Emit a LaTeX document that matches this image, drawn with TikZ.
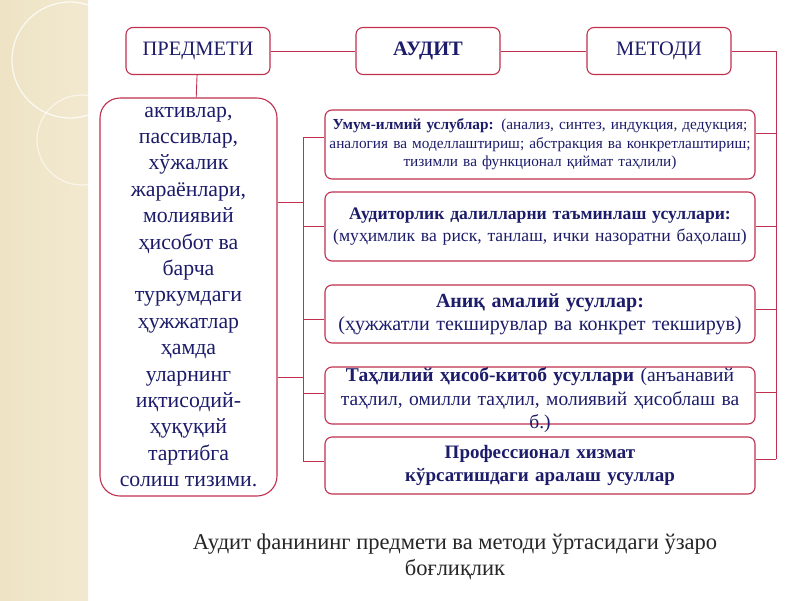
\documentclass[tikz,border=0pt]{standalone}
\usepackage{fontspec}
\setmainfont{Liberation Serif}
\usetikzlibrary{positioning}
\definecolor{frame}{HTML}{C0304F}
\definecolor{ink}{HTML}{1C1C6A}
\definecolor{sand}{HTML}{EEE3C4}

\begin{document}
\begin{tikzpicture}[
    x=1pt, y=-1pt,
    box/.style={draw=frame, line width=1.1pt, rounded corners=7pt, fill=white,
        inner sep=0pt, align=center, text=ink},
    head/.style={box, minimum width=144, minimum height=47, font=\fontsize{20.5}{22}\selectfont},
    way/.style={box, minimum width=430, text width=428},
    link/.style={draw=frame, line width=0.9pt},
]
    \useasboundingbox (0,0) rectangle (800,600);
    \fill[white] (0,0) rectangle (800,600);
    \shade[left color=sand, right color=sand!80!white] (0,0) rectangle (88,600);
    \draw[white, line width=1.2pt, opacity=0.8] (70,60) circle (58);
    \draw[white, line width=1.2pt, opacity=0.6] (82,140) circle (45);

    \node[head]                     (subj) at (198,51) {ПРЕДМЕТИ};
    \node[head, font=\bfseries\fontsize{20.5}{22}\selectfont] (audit) at (428,51) {АУДИТ};
    \node[head]                     (meth) at (659,51) {МЕТОДИ};

    \node[box, rounded corners=20pt, minimum width=177, minimum height=398,
          font=\fontsize{21.8}{26.4}\selectfont] (items) at (188.5,297)
        {активлар,\\ пассивлар,\\ хўжалик\\ жараёнлари,\\ молиявий\\ ҳисобот ва\\ барча\\ туркумдаги\\
         ҳужжатлар\\ ҳамда\\ уларнинг\\ иқтисодий-\\ ҳуқуқий\\ тартибга\\ солиш тизими.};

    \node[way, minimum height=69, font=\fontsize{15.3}{18.5}\selectfont] (w1) at (540,144.5)
        {\textbf{Умум-илмий услублар:} (анализ, синтез, индукция, дедукция;\\ аналогия ва моделлаштириш; абстракция ва конкретлаштириш;\\ тизимли ва функционал қиймат таҳлили)};
    \node[way, minimum height=69, font=\fontsize{17.6}{22}\selectfont] (w2) at (540,226.5)
        {\textbf{Аудиторлик далилларни таъминлаш усуллари:}\\(муҳимлик ва риск, танлаш, ички назоратни баҳолаш)};
    \node[way, minimum height=58, font=\fontsize{20}{23}\selectfont] (w3) at (540,314)
        {\textbf{Аниқ амалий усуллар:}\\(ҳужжатли текширувлар ва конкрет текширув)};
    \node[way, minimum height=57] (w4) at (540,395.5) {};
    \node[align=center, text=ink, text width=428, inner sep=0pt,
          font=\fontsize{19.5}{23.5}\selectfont] (w4text) at ([yshift=-5pt]w4.center)
        {\textbf{Таҳлилий ҳисоб-китоб усуллари} (анъанавий\\ таҳлил, омилли таҳлил, молиявий ҳисоблаш ва\\ б.)};
    \node[way, minimum height=57, font=\bfseries\fontsize{19}{23}\selectfont] (w5) at (540,465.5)
        {Профессионал хизмат\\кўрсатишдаги аралаш усуллар};

    \coordinate (lb) at (303,0);
    \coordinate (rb) at (776,0);

    % top row
    \draw[link] (subj) -- (audit);
    \draw[link] (audit) -- (meth);
    \draw[link] (subj) -- (items);

    % left bracket
    \draw[link] (lb |- 0,137) -- (lb |- 0,461);
    \draw[link] (items.east |- 0,202) -- (lb |- 0,202);
    \draw[link] (items.east |- 0,377) -- (lb |- 0,377);
    \foreach \w/\y in {w1/137, w2/226, w3/319, w4/393, w5/461}
        \draw[link] (lb |- 0,\y) -- (\w.west |- 0,\y);

    % right bracket
    \draw[link] (meth.east) -| (rb |- 0,459);
    \foreach \w/\y in {w1/133, w2/226, w3/309, w4/392, w5/459}
        \draw[link] (\w.east |- 0,\y) -- (rb |- 0,\y);

    \node[align=center, text=black!85, font=\fontsize{22.5}{26}\selectfont] (note) at (455,557)
        {Аудит фанининг предмети ва методи ўртасидаги ўзаро\\боғлиқлик};
\end{tikzpicture}
\end{document}
